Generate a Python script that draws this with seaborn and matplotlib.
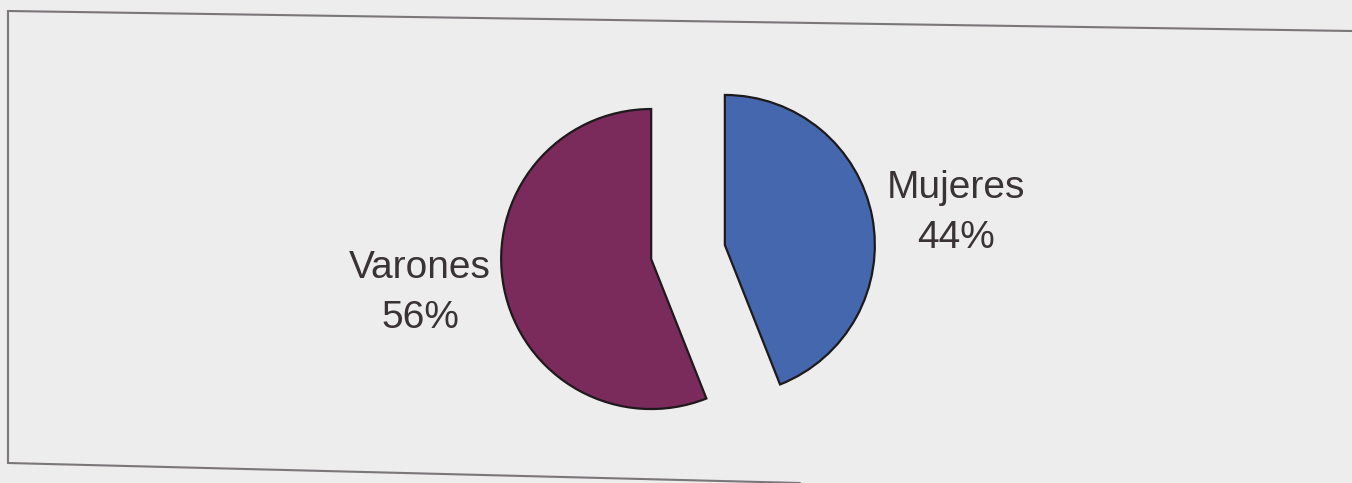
import matplotlib.pyplot as plt
from matplotlib.lines import Line2D
import seaborn as sns

# data
labels = ["Mujeres", "Varones"]
shares = [44, 56]
colors = ["#4467ae", "#7a2a5b"]

sns.set_theme(style="white")
plt.rcParams["font.family"] = ["Liberation Sans", "DejaVu Sans"]

W, H = 1352, 483
fig = plt.figure(figsize=(W / 100, H / 100), dpi=100, facecolor="#ededed")
ax = fig.add_axes([0, 0, 1, 1])
ax.set_facecolor("#ededed")

wedges, _ = ax.pie(
    shares,
    colors=colors,
    startangle=90,
    counterclock=False,
    explode=[0.25, 0.25],
    radius=1.0,
    wedgeprops={"edgecolor": "#1e1a1c", "linewidth": 1.6},
)

# pixel-matched view: centre at (688, 252) from top, radius 150 px
cx, cy, r = 688, 252, 150
ax.set_xlim(-cx / r, (W - cx) / r)
ax.set_ylim(-(H - cy) / r, cy / r)
ax.set_aspect("auto")
ax.axis("off")

# labels: (centre x, baseline of first line) in pixels from top-left
label_pos = [(956, 198), (420, 278)]
txt = {"fontsize": 28, "color": "#3a3336", "ha": "center", "va": "baseline"}
for (lx, ly), name, s in zip(label_pos, labels, shares):
    fig.text(lx / W, 1 - ly / H, name, **txt)
    fig.text(lx / W, 1 - (ly + 50) / H, f"{s}%", **txt)

# scanned frame lines (slightly skewed)
frame = {"transform": fig.transFigure, "color": "#7a767a", "lw": 1.5}
fig.add_artist(Line2D([8 / W, 1.0], [1 - 11 / H, 1 - 31 / H], **frame))
fig.add_artist(Line2D([8 / W, 8 / W], [1 - 11 / H, 1 - 463 / H], **frame))
fig.add_artist(Line2D([8 / W, 800 / W], [1 - 463 / H, 0.0], **frame))

fig.savefig("out.png", dpi=100, facecolor=fig.get_facecolor())
